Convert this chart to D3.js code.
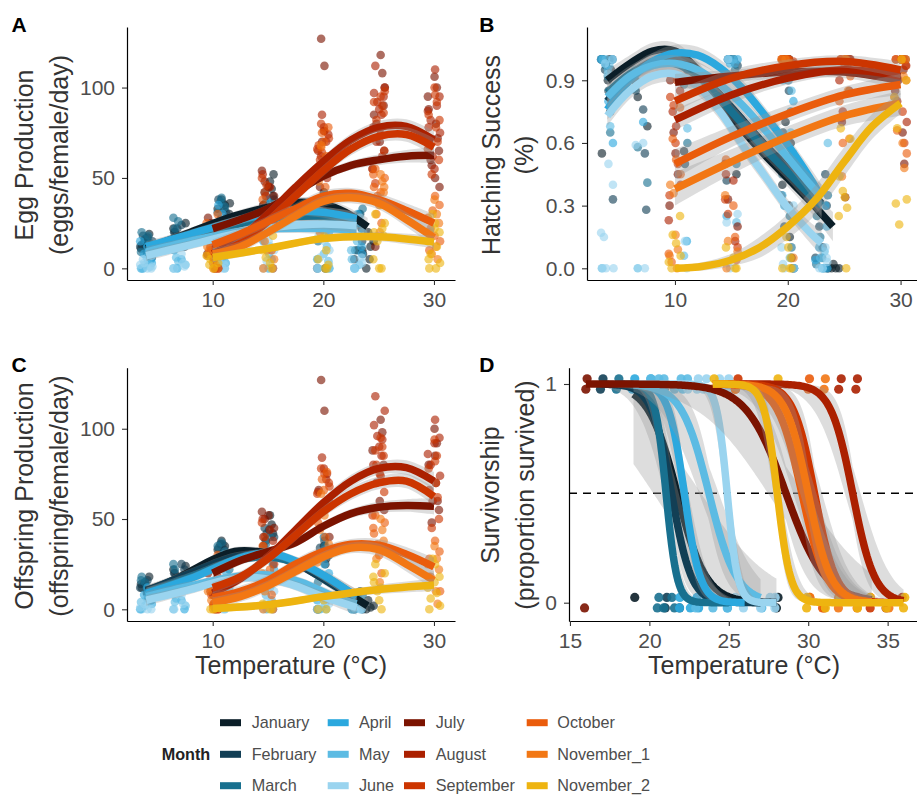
<!DOCTYPE html>
<html>
<head>
<meta charset="utf-8">
<script src="https://cdn.jsdelivr.net/npm/d3@7"></script>
<style>
  body { margin: 0; background: #fff; }
  svg text { font-family: "Liberation Sans", Arial, Helvetica, sans-serif; }
</style>
</head>
<body>
<svg id="fig" width="917" height="797"></svg>
<script>
// ---- categories -------------------------------------------------------
const months = ["January", "February", "March", "April", "May", "June",
  "July", "August", "September", "October", "November_1", "November_2"];
const monthColours = ["#0b1e28", "#123f55", "#18708f", "#2ba8de", "#5cbbe3", "#9ad4ef",
  "#7b1300", "#ab2000", "#cc3500", "#ea5c0c", "#f27714", "#eeb410"];

// ---- tick labels ------------------------------------------------------
const tempTicks = [10, 20, 30];
const prodTicks = [0, 50, 100];
const hatchTicks = [0, 0.3, 0.6, 0.9];
const survTempTicks = [15, 20, 25, 30, 35];
const survTicks = [0, 1];

// ---- observations: each row is [temperature, value, value, ...] -------
const eggObs = [
  [[4, 13, 16, 9, 19, 11, 14, 7], [7, 22, 18, 25, 20, 16], [11, 38, 35, 30, 33, 27, 36], [15, 48, 44, 40, 36, 30, 52], [20, 42, 36, 30, 0, 33], [24, 15, 8, 0, 20, 12, 10, 5]],
  [[4, 10, 14, 17, 6, 12, 18, 15], [7, 20, 24, 15, 12, 22], [11, 36, 33, 28, 38, 31], [15, 42, 38, 35, 26, 45], [20, 35, 28, 0, 22, 38], [23, 30, 22, 5, 10, 15]],
  [[4, 20, 16, 13, 11, 9, 18, 14], [7, 28, 12, 18, 22, 26], [11, 39, 34, 22, 31, 37], [15, 30, 28, 25, 20, 38], [20, 32, 25, 15, 40, 28], [23, 33, 18, 10, 25, 30]],
  [[4, 5, 8, 12, 3, 15, 0, 10], [7, 10, 5, 14, 18, 0], [11, 30, 26, 20, 35, 3], [15, 32, 22, 15, 38, 0], [20, 25, 20, 5, 35, 0], [23, 25, 12, 0, 30, 8]],
  [[4, 0, 2, 6, 10, 0, 4, 1], [7, 0, 6, 2, 11, 4], [11, 5, 0, 12, 3, 1], [15, 12, 5, 0, 25, 8], [20, 8, 0, 0, 20, 12, 4], [23, 20, 5, 0, 15, 2, 10]],
  [[4, 0, 3, 0, 7, 2, 5, 1], [7, 0, 8, 3, 1], [11, 0, 2, 8, 4], [15, 20, 10, 0, 4, 15], [20, 15, 3, 0, 6, 10, 18], [23, 28, 6, 0, 18, 3]],
  [[10, 28, 25, 20, 15, 8, 0, 12], [15, 54, 48, 40, 35, 30, 45], [20, 127, 112, 60, 52, 45, 40, 35, 70, 76], [25, 118, 108, 90, 80, 70, 65, 55, 12, 100, 85], [30, 106, 100, 88, 80, 72, 65, 57, 50, 45, 95, 60]],
  [[10, 22, 12, 5, 0, 16], [15, 52, 45, 30, 25, 40], [20, 85, 78, 70, 65, 58, 50, 74, 62], [25, 112, 100, 97, 92, 88, 85, 78, 74, 62, 95, 70], [30, 110, 95, 87, 82, 75, 68, 62, 55, 90, 78]],
  [[10, 18, 10, 3, 0, 7], [15, 50, 42, 25, 20, 46], [20, 80, 76, 72, 66, 60, 55, 68, 64], [25, 95, 90, 86, 82, 77, 65, 55, 47, 98, 92], [30, 100, 92, 85, 78, 70, 60, 52, 96, 82, 66]],
  [[10, 30, 15, 5, 0, 25, 10], [15, 38, 28, 10, 0, 20], [20, 75, 70, 62, 52, 45, 38, 78, 67], [25, 55, 50, 45, 40, 35, 25, 52, 42], [30, 40, 35, 28, 22, 15, 10, 32, 18]],
  [[10, 20, 8, 0, 2, 12], [15, 25, 15, 5, 0, 10], [20, 68, 55, 40, 30, 20, 62, 48], [25, 52, 48, 42, 30, 20, 45, 38], [30, 38, 30, 20, 12, 5, 25, 8]],
  [[10, 10, 5, 0, 3, 7, 2], [15, 10, 3, 0, 18, 6], [20, 25, 18, 10, 5, 0, 0, 2], [25, 30, 25, 20, 15, 0, 0, 5, 35, 22, 18], [30, 25, 20, 15, 8, 3, 0, 30, 22, 12, 5, 0]]
];

const hatchObs = [
  [[4, 1, 0.98, 0.9, 0.75, 0.55, 1, 0.95], [7, 0.9, 0.82, 0.68], [11, 0.56, 0.95], [15, 1, 0.98, 0.45, 1], [20, 0.9, 0.6, 0.4, 0.15, 0.05, 0, 0.7, 0.3], [24, 0, 0, 0, 0.02, 0]],
  [[4, 1, 0.95, 0.85, 0.33, 1], [7, 0.85, 0.76, 0.55, 0.28], [11, 0.5, 0.9], [15, 1, 0.97, 0.42, 1], [20, 0.85, 0.5, 0.35, 0.2, 0, 0.65], [23, 0.45, 0.3, 0.2, 0.1, 0, 0.05]],
  [[4, 1, 0.97, 0.92, 0.65, 1], [7, 0.86, 0.58, 0.41], [11, 0.88, 0.6], [15, 1, 0.95, 0.5, 1], [20, 0.95, 0.75, 0.45, 0.25, 0.1, 0.55], [23, 0.35, 0.25, 0.15, 0.05, 0, 0.02]],
  [[4, 1, 0.98, 0.8, 0.6, 1], [7, 0.9, 0.7], [11, 0.9, 0.13], [15, 1, 1, 0.25, 0.98], [20, 1, 0.8, 0.55, 0.3, 0, 0.9], [23, 0.3, 0.2, 0.1, 0, 0, 0.04]],
  [[4, 1, 1, 0.95, 0.68, 0, 0.97], [7, 0.95, 0], [11, 0.06, 0.67], [15, 1, 0.98, 0.22, 1], [20, 1, 0.65, 0.35, 0.05, 0.85], [23, 0.6, 0.15, 0.05, 0, 0.08]],
  [[4, 1, 0.98, 0.5, 0.4, 0.17, 0.15, 0, 0, 0, 0.93], [7, 0.59, 0.6, 0], [11, 0.13, 0], [15, 1, 0.26, 0.22, 0], [20, 0.9, 0.3, 0.1, 0, 0, 0.02], [23, 0.1, 0.05, 0, 0, 0.03]],
  [[10, 0.9, 0.65, 0.55, 0.45, 0.3], [15, 0.5, 0.33, 0.2], [20, 1, 1, 0.98, 0.95, 1], [25, 1, 0.98, 0.85, 0.7, 0.34, 1], [30, 1, 0.95, 0.85, 0.65, 0.5, 1, 0.9]],
  [[10, 0.85, 0.75, 0.68, 0.4, 0.23], [15, 0.45, 0.42, 0.13], [20, 1, 1, 0.97, 1], [25, 1, 1, 0.9, 0.75, 0.97], [30, 1, 0.97, 0.9, 0.8, 0.7, 1]],
  [[10, 0.82, 0.78, 0.6, 0.5, 0.35, 0.9], [15, 0.33, 0.26, 0.1], [20, 1, 1, 0.99, 1], [25, 1, 1, 0.95, 0.72, 1], [30, 1, 1, 0.88, 0.75, 0.6, 0.97]],
  [[10, 0.77, 0.62, 0.52, 0.45, 0.07, 0.03], [15, 0.52, 0.3, 0.15, 0.04], [20, 1, 1, 0.98, 1], [25, 1, 0.92, 0.8, 0.6, 1], [30, 1, 0.9, 0.82, 0.66, 0.55, 1]],
  [[10, 0.4, 0.36, 0.16, 0.09, 0.06, 0], [15, 0.35, 0.13, 0.08, 0], [20, 1, 0.98, 0.05, 1], [25, 1, 0.85, 0.62, 0.44, 1], [30, 1, 0.92, 0.78, 0.6, 0.48, 1]],
  [[10, 0.25, 0.16, 0.12, 0.06, 0.03, 0], [15, 0.1, 0.05, 0, 0], [20, 0.15, 0.1, 0.05, 0, 0, 0], [25, 0.67, 0.62, 0.44, 0.37, 0.34, 0.29, 0.25, 0], [30, 1, 0.9, 0.82, 0.67, 0.33, 0.31, 0.21]]
];

const offspringObs = [
  [[4, 12, 15, 9, 18, 14, 6], [7, 22, 18, 24, 20, 16], [11, 38, 35, 30, 33, 36], [15, 52, 47, 42, 38, 44], [20, 35, 28, 0, 25], [24, 2, 0, 0, 5, 1]],
  [[4, 10, 14, 16, 6, 12], [7, 20, 25, 15, 22], [11, 36, 33, 28, 34], [15, 45, 40, 35, 42], [20, 38, 30, 0, 34], [23, 10, 3, 0, 6]],
  [[4, 18, 15, 12, 9, 16], [7, 25, 12, 18, 22], [11, 37, 32, 22, 35], [15, 40, 30, 25, 36], [20, 40, 30, 15, 35], [23, 8, 0, 2, 5]],
  [[4, 5, 8, 12, 3, 0], [7, 10, 5, 14, 0], [11, 30, 26, 20, 2], [15, 32, 22, 15, 0], [20, 25, 20, 5, 0], [23, 5, 0, 0, 2]],
  [[4, 0, 2, 6, 10, 4], [7, 0, 6, 2, 4], [11, 5, 0, 12, 1], [15, 12, 5, 0, 8], [20, 8, 0, 0, 3], [23, 2, 0, 0]],
  [[4, 0, 3, 0, 7, 1], [7, 0, 8, 3], [11, 0, 2, 8], [15, 20, 10, 0, 4], [20, 5, 3, 0, 1], [23, 0, 0, 1]],
  [[10, 20, 15, 8, 0, 24], [15, 54, 50, 45, 40, 30, 52], [20, 127, 110, 60, 52, 45, 40, 66], [25, 105, 98, 80, 70, 60, 55, 88], [30, 100, 92, 80, 70, 60, 55, 48, 85]],
  [[10, 18, 10, 3, 0], [15, 50, 44, 30, 38], [20, 84, 78, 72, 65, 58, 75], [25, 118, 110, 102, 96, 90, 85, 80, 74, 94], [30, 105, 95, 86, 80, 74, 66, 60, 92]],
  [[10, 15, 8, 2, 0], [15, 48, 40, 25, 35], [20, 78, 75, 70, 64, 56, 68], [25, 95, 90, 85, 80, 75, 65, 52, 88], [30, 94, 85, 78, 70, 62, 50, 45, 82]],
  [[10, 30, 12, 3, 0], [15, 35, 22, 8, 0], [20, 72, 66, 58, 48, 40, 76], [25, 52, 48, 42, 36, 30, 20, 45], [30, 38, 32, 25, 18, 10, 28]],
  [[10, 10, 5, 0], [15, 20, 10, 3, 0], [20, 64, 52, 36, 26, 44], [25, 50, 44, 38, 28, 15, 34], [30, 35, 28, 18, 10, 3, 22]],
  [[10, 2, 0, 0, 1], [15, 3, 0, 0], [20, 8, 5, 0, 0], [25, 25, 20, 15, 10, 5, 0, 18, 12], [30, 25, 18, 12, 6, 2, 0, 28, 15, 9]]
];

// ---- smoother fits: each row is [temperature, fitted value, CI half-width]
const eggFit = [
  [[4, 11, 3], [8, 20, 2.5], [12, 29, 2.5], [16, 35, 3], [18, 36.5, 3], [20, 35.5, 3], [22, 31, 3.5], [24, 23, 5]],
  [[4, 10, 3], [8, 18, 2.5], [12, 26, 2.5], [16, 31, 2.5], [20, 31, 3], [23, 27, 4]],
  [[4, 10, 3], [8, 17, 2.5], [12, 24, 2.5], [16, 28, 2.5], [20, 28.5, 3], [23, 26, 4]],
  [[4, 12, 3], [8, 19, 2.5], [12, 26, 2.5], [16, 31.5, 2.5], [20, 31, 3], [23, 27.5, 4]],
  [[4, 9, 3], [8, 15, 2.5], [12, 20, 2.5], [16, 22, 2.5], [20, 22, 3], [23, 21, 4]],
  [[4, 7, 3], [8, 13, 2.5], [12, 19, 2.5], [16, 23, 2.5], [20, 24.5, 3], [23, 23.5, 4]],
  [[10, 22, 3], [12.5, 27, 2.5], [15, 33, 2.5], [17.5, 42, 2.5], [20, 51, 2.5], [22.5, 57, 2.5], [25, 60, 3], [27.5, 62, 3.5], [30, 62.5, 4.5]],
  [[10, 8, 3], [12.5, 17, 3], [15, 30, 3], [17.5, 45, 3], [20, 59, 3], [22.5, 71, 3.5], [25, 78, 3.5], [27.5, 78.5, 4], [30, 71, 5]],
  [[10, 6, 3], [12.5, 14, 3], [15, 26, 3], [17.5, 40, 3], [20, 54, 3], [22.5, 66, 3.5], [25, 73, 3.5], [27.5, 74, 4], [30, 67, 5]],
  [[10, 13, 3], [12.5, 19, 3], [15, 26, 3], [17.5, 33, 3], [20, 40, 3], [22.5, 41.5, 3], [25, 38, 3.5], [27.5, 32, 4], [30, 25, 5]],
  [[10, 8, 3], [12.5, 12, 3], [15, 20, 3], [17.5, 29, 3], [20, 37, 3], [22.5, 39, 3], [25, 36, 3.5], [27.5, 27, 4], [30, 17, 5]],
  [[10, 6, 2.5], [15, 11, 2], [20, 16.5, 2], [25, 17.5, 2.5], [30, 14.5, 3.5]]
];

const hatchFit = [
  [[4, 0.90, 0.05], [6, 0.98, 0.04], [8, 1.04, 0.04], [10, 1.04, 0.04], [12, 0.95, 0.04], [14, 0.79, 0.04], [16, 0.66, 0.04], [18, 0.54, 0.04], [20, 0.43, 0.04], [22, 0.32, 0.05], [24, 0.20, 0.07]],
  [[4, 0.80, 0.05], [6, 0.92, 0.04], [8, 0.99, 0.04], [10, 1.00, 0.04], [12, 0.94, 0.04], [14, 0.83, 0.04], [16, 0.71, 0.04], [18, 0.59, 0.04], [20, 0.48, 0.04], [22, 0.37, 0.05], [23, 0.31, 0.06]],
  [[4, 0.84, 0.05], [6, 0.93, 0.04], [8, 0.98, 0.04], [10, 0.98, 0.04], [12, 0.92, 0.04], [14, 0.81, 0.04], [16, 0.69, 0.04], [18, 0.57, 0.04], [20, 0.46, 0.04], [22, 0.35, 0.05], [23, 0.30, 0.06]],
  [[4, 0.76, 0.05], [6, 0.90, 0.04], [8, 0.99, 0.04], [10, 1.03, 0.04], [12, 1.02, 0.04], [14, 0.96, 0.04], [16, 0.86, 0.04], [18, 0.73, 0.04], [20, 0.59, 0.04], [22, 0.43, 0.05], [23, 0.34, 0.06]],
  [[4, 0.82, 0.05], [6, 0.92, 0.04], [8, 0.97, 0.04], [10, 0.98, 0.04], [12, 0.95, 0.04], [14, 0.88, 0.04], [16, 0.78, 0.04], [18, 0.66, 0.04], [20, 0.53, 0.04], [22, 0.40, 0.05], [23, 0.34, 0.06]],
  [[4, 0.73, 0.05], [6, 0.85, 0.04], [8, 0.92, 0.04], [10, 0.93, 0.04], [12, 0.87, 0.04], [14, 0.75, 0.04], [16, 0.59, 0.04], [18, 0.44, 0.04], [20, 0.29, 0.04], [22, 0.17, 0.05], [23, 0.12, 0.06]],
  [[10, 0.89, 0.04], [15, 0.92, 0.03], [20, 0.94, 0.03], [25, 0.94, 0.03], [30, 0.90, 0.04]],
  [[10, 0.71, 0.05], [15, 0.83, 0.04], [20, 0.91, 0.03], [25, 0.95, 0.03], [30, 0.92, 0.04]],
  [[10, 0.80, 0.05], [15, 0.91, 0.04], [20, 0.97, 0.03], [25, 0.99, 0.03], [30, 0.95, 0.04]],
  [[10, 0.50, 0.07], [15, 0.63, 0.05], [20, 0.74, 0.04], [25, 0.83, 0.04], [30, 0.88, 0.05]],
  [[10, 0.38, 0.08], [15, 0.51, 0.06], [20, 0.63, 0.05], [25, 0.73, 0.05], [30, 0.79, 0.06]],
  [[10, 0.00, 0.01], [12.5, 0.01, 0.02], [15, 0.04, 0.03], [17.5, 0.10, 0.05], [20, 0.20, 0.06], [22.5, 0.33, 0.07], [25, 0.51, 0.07], [27.5, 0.68, 0.06], [30, 0.79, 0.05]]
];

const offspringFit = [
  [[4, 10.5, 3], [6, 15, 2.5], [8, 21, 2.5], [10, 27.5, 2.5], [12, 32, 2.5], [14, 32, 2.5], [16, 29.5, 2.5], [18, 24, 2.5], [20, 17, 3], [22, 9.5, 3], [24, 2, 4]],
  [[4, 10, 3], [8, 20, 2.5], [12, 29, 2.5], [15, 30, 2.5], [18, 24, 2.5], [21, 13, 3], [23, 6, 4]],
  [[4, 9, 3], [8, 18, 2.5], [12, 27, 2.5], [15, 29, 2.5], [18, 25, 2.5], [21, 15, 3], [23, 7, 4]],
  [[4, 8.8, 3], [8, 17, 2.5], [11, 25, 2.5], [13, 29.5, 2.5], [15, 31, 2.5], [17, 28, 2.5], [20, 19, 3], [23, 7, 4]],
  [[4, 7, 3], [8, 13, 2.5], [12, 18, 2.5], [15, 19, 2.5], [18, 15, 2.5], [21, 7, 3], [23, 3, 4]],
  [[4, 5, 3], [8, 11, 2.5], [11, 16, 2.5], [14, 17.5, 2.5], [17, 14, 2.5], [20, 7, 3], [23, 1, 4]],
  [[10, 20, 3], [12.5, 27, 2.5], [15, 32, 2.5], [17.5, 37, 2.5], [20, 46, 2.5], [22.5, 53, 2.5], [25, 56.5, 3], [27.5, 57.5, 3.5], [30, 57, 4.5]],
  [[10, 9, 3], [12.5, 17, 3], [15, 29, 3], [17.5, 44, 3], [20, 59, 3], [22.5, 71, 3.5], [25, 78, 3.5], [27.5, 78.5, 4], [30, 71, 5]],
  [[10, 12, 3], [12.5, 18, 3], [15, 28, 3], [17.5, 41, 3], [20, 54, 3], [22.5, 64, 3.5], [25, 70, 3.5], [27.5, 71, 4], [30, 62.5, 5]],
  [[10, 6.5, 3], [12.5, 10, 3], [15, 16, 3], [17.5, 25, 3], [20, 32, 3], [22.5, 36, 3], [25, 35.5, 3.5], [27.5, 30.5, 4], [30, 23.5, 5]],
  [[10, 3.7, 3], [12.5, 7, 3], [15, 13, 3], [17.5, 21, 3], [20, 29, 3], [22.5, 34, 3], [25, 33, 3.5], [27.5, 25, 4], [30, 16, 5]],
  [[10, 0.5, 2], [15, 2.5, 2], [20, 7, 2], [25, 11, 2.5], [30, 13.5, 3.5]]
];

// ---- survivorship: individual outcomes [temperature, survived (1) / died (0)]
const survObs = [
  [[21, 1], [19, 0], [28, 0], [28, 0]],
  [[17, 1], [17, 1], [21, 0], [21, 0], [22, 0]],
  [[18, 1], [18, 1], [20.5, 0], [20.5, 0], [21, 0], [21.5, 0], [21.5, 0]],
  [[19, 1], [19, 1], [20, 1], [20, 1], [22, 0], [22, 0], [22.5, 0], [23, 0], [23, 0], [24, 0], [25, 0], [26, 0]],
  [[20, 1], [20, 1], [20.5, 1], [20.5, 1], [21, 1], [21, 1], [21.5, 1], [22, 1], [22, 1], [22.5, 1], [23, 0], [23.5, 0], [24, 0], [24.5, 0], [25, 0], [26, 0], [27, 0]],
  [[22.5, 1], [23, 1], [23, 1], [23.5, 1], [23.5, 1], [24.5, 1], [24.5, 1], [25, 1], [25, 1], [25.5, 0], [26, 0], [26.5, 0], [27, 0], [27.5, 0], [28, 0], [28, 0]],
  [[16, 0], [16, 1], [16, 1]],
  [[32, 1], [32, 1], [33, 1], [33, 1], [35, 0], [36, 0]],
  [[25.5, 1], [25.5, 1], [31, 0], [33, 0], [34, 0]],
  [[24, 1], [30, 1], [30, 1], [30, 0], [31, 0], [32, 0], [33, 0]],
  [[25.5, 1], [31, 1], [31, 1], [30, 0], [32, 0], [34, 0], [35, 0]],
  [[24, 1], [24, 1], [28, 1], [28, 1], [30, 0], [30, 0], [31, 0], [32, 0], [33, 0], [34, 0], [35, 0], [36, 0], [36, 0]]
];
// logistic fits: temperature of 50% survival, slope, fitted range, CI width on the link scale
const survLT50 = [21.75, 21.4, 21.05, 22.2, 23.75, 24.9, 28.6, 32.8, 30.4, 29.6, 30.0, 28.05];
const survSlope = [1.1, 1.6, 2.9, 2.0, 1.15, 3.0, 0.8, 1.45, 1.5, 1.3, 1.4, 2.4];
const survRange = [[19, 28], [17, 27], [18, 25], [19, 26], [19, 27], [19, 28], [16, 34], [24, 36], [24, 35], [24, 34], [24, 34], [24, 36]];
const survBand = [[0.66, 0.6], [0.5, 0.3], [0.4, 0.2], [0.4, 0.25], [0.5, 0.3], [0.4, 0.2], [0.5, 0.45], [0.5, 0.3], [0.5, 0.3], [0.5, 0.3], [0.5, 0.3], [0.4, 0.25]];

// ---- drawing ----------------------------------------------------------
const svg = d3.select("#fig");
const TICK_COL = "#4d4d4d", TITLE_COL = "#333333";
const jitterX = [-0.42, 0.18, 0.5, -0.12, 0.33, -0.55, 0.05, 0.45, -0.3, 0.26, -0.2, 0.55, -0.48, 0.1];
const logistic = e => 1 / (1 + Math.exp(-e));

function makePanel(key, x, y) {
  const [x0, x1] = x.range(), [yb, yt] = y.range();
  svg.append("clipPath").attr("id", "clip-" + key)
    .append("rect").attr("x", x0).attr("y", yt).attr("width", x1 - x0).attr("height", yb - yt);
  const g = svg.append("g");
  const plot = g.append("g").attr("clip-path", `url(#clip-${key})`);
  return { g, plot };
}

function drawAxes(g, x, y, xTicks, yTicks, yFmt) {
  const [yb] = y.range(), [x0] = x.range();
  const ax = g.append("g").attr("transform", `translate(0,${yb})`)
    .call(d3.axisBottom(x).tickValues(xTicks).tickSize(5).tickPadding(7).tickSizeOuter(0).tickFormat(d3.format("d")));
  const ay = g.append("g").attr("transform", `translate(${x0},0)`)
    .call(d3.axisLeft(y).tickValues(yTicks).tickSize(5).tickPadding(7).tickSizeOuter(0).tickFormat(yFmt));
  [ax, ay].forEach(a => {
    a.select(".domain").attr("stroke", "#000").attr("stroke-width", 1.2);
    a.selectAll(".tick line").attr("stroke", "#333").attr("stroke-width", 1.1);
    a.selectAll(".tick text").attr("fill", TICK_COL).attr("font-size", 21)
      .attr("font-family", '"Liberation Sans", Arial, sans-serif');
  });
}

function drawPoints(plot, x, y, obs) {
  const pts = [];
  obs.forEach((rows, mi) => rows.forEach((row, ri) => row.slice(1).forEach((v, j) => {
    pts.push({ t: row[0] + jitterX[(j * 3 + ri * 5 + mi * 7) % jitterX.length], v, mi });
  })));
  plot.append("g").selectAll("circle").data(pts).join("circle")
    .attr("cx", d => x(d.t)).attr("cy", d => y(d.v)).attr("r", 4.3)
    .attr("fill", d => monthColours[d.mi]).attr("fill-opacity", 0.62);
}

function drawFits(plot, x, y, fits) {
  const curve = d3.curveCatmullRom.alpha(0.5);
  const area = d3.area().x(d => x(d[0])).y0(d => y(d[1] - d[2])).y1(d => y(d[1] + d[2])).curve(curve);
  const line = d3.line().x(d => x(d[0])).y(d => y(d[1])).curve(curve);
  fits.forEach((rows, mi) => {
    plot.append("path").attr("d", area(rows)).attr("fill", "#999").attr("fill-opacity", 0.33);
    plot.append("path").attr("d", line(rows)).attr("fill", "none")
      .attr("stroke", monthColours[mi]).attr("stroke-width", 7.5);
  });
}

function yTitle(lines, xs, cy) {
  lines.forEach((s, i) => {
    svg.append("text").attr("transform", `translate(${xs[i]},${cy}) rotate(-90)`)
      .attr("text-anchor", "middle").attr("font-size", 25).attr("fill", TITLE_COL).text(s);
  });
}
function xTitle(cx, yb) {
  svg.append("text").attr("x", cx).attr("y", yb).attr("text-anchor", "middle")
    .attr("font-size", 25).attr("fill", TITLE_COL).text("Temperature (°C)");
}
function tag(s, x, y) {
  svg.append("text").attr("x", x).attr("y", y).attr("font-size", 21)
    .attr("font-weight", "bold").attr("fill", "#000").text(s);
}

// Panel A — egg production
{
  const x = d3.scaleLinear().domain([2.255, 31.9]).range([127, 455]);
  const y = d3.scaleLinear().domain([-6.45, 133.5]).range([280, 27]);
  const { g, plot } = makePanel("A", x, y);
  drawPoints(plot, x, y, eggObs);
  drawFits(plot, x, y, eggFit);
  drawAxes(g, x, y, tempTicks, prodTicks, d3.format("d"));
  yTitle(["Egg Production", "(eggs/female/day)"], [33, 68.3], 155);
  tag("A", 11.5, 31.7);
}

// Panel B — hatching success
{
  const x = d3.scaleLinear().domain([2.2, 31.9]).range([587, 922]);
  const y = d3.scaleLinear().domain([-0.056, 1.155]).range([280, 27]);
  const { g, plot } = makePanel("B", x, y);
  drawPoints(plot, x, y, hatchObs);
  drawFits(plot, x, y, hatchFit);
  drawAxes(g, x, y, tempTicks, hatchTicks, d3.format(".1f"));
  yTitle(["Hatching Success", "(%)"], [499.6, 533.3], 155);
  tag("B", 479.3, 31.7);
}

// Panel C — offspring production
{
  const x = d3.scaleLinear().domain([2.255, 31.9]).range([127, 455]);
  const y = d3.scaleLinear().domain([-6.48, 133.8]).range([621, 367.7]);
  const { g, plot } = makePanel("C", x, y);
  drawPoints(plot, x, y, offspringObs);
  drawFits(plot, x, y, offspringFit);
  drawAxes(g, x, y, tempTicks, prodTicks, d3.format("d"));
  yTitle(["Offspring Production", "(offspring/female/day)"], [33, 68.3], 496);
  xTitle(291, 674);
  tag("C", 11.5, 371.7);
}

// Panel D — survivorship
{
  const x = d3.scaleLinear().domain([14.94, 37]).range([569, 919.4]);
  const y = d3.scaleLinear().domain([-0.0837, 1.0745]).range([621, 367.7]);
  const { g, plot } = makePanel("D", x, y);
  const yJit = [-0.024, 0.024], xJit = [-0.08, 0.08, 0, 0.1, -0.1];
  const pts = [];
  survObs.forEach((rows, mi) => rows.forEach((r, i) => pts.push({ t: r[0] + xJit[i % xJit.length], v: r[1] + yJit[i % 2], mi })));
  plot.append("g").selectAll("circle").data(pts).join("circle")
    .attr("cx", d => x(d.t)).attr("cy", d => y(d.v)).attr("r", 4.6)
    .attr("fill", d => monthColours[d.mi]).attr("fill-opacity", 0.9);
  plot.append("line").attr("x1", x.range()[0]).attr("x2", x.range()[1])
    .attr("y1", y(0.5)).attr("y2", y(0.5))
    .attr("stroke", "#000").attr("stroke-width", 1.5).attr("stroke-dasharray", "8,6");
  survLT50.forEach((lt, mi) => {
    const k = survSlope[mi], [a, b] = survRange[mi], [c0, c1] = survBand[mi];
    const curvePts = d3.range(a, b + 1e-6, 0.1).map(t => {
      const eta = k * (lt - t), h = c0 + c1 * Math.abs(eta);
      return [t, logistic(eta), logistic(eta - h), logistic(eta + h)];
    });
    plot.append("path").attr("d", d3.area().x(d => x(d[0])).y0(d => y(d[2])).y1(d => y(d[3]))(curvePts))
      .attr("fill", "#999").attr("fill-opacity", 0.33);
    plot.append("path").attr("d", d3.line().x(d => x(d[0])).y(d => y(d[1]))(curvePts))
      .attr("fill", "none").attr("stroke", monthColours[mi]).attr("stroke-width", 7.5);
  });
  drawAxes(g, x, y, survTempTicks, survTicks, d3.format("d"));
  yTitle(["Survivorship", "(proportion survived)"], [498.6, 534], 495);
  xTitle(744, 674);
  tag("D", 479.3, 371.7);
}

// Legend
{
  const keyX = [220, 327.7, 404, 526.7], labX = [251.7, 359, 435.7, 557.3], rowY = [722.7, 754.3, 785.7];
  svg.append("text").attr("x", 161.7).attr("y", 754.3).attr("dy", "0.35em")
    .attr("font-size", 16.2).attr("font-weight", "bold").attr("fill", "#222").text("Month");
  months.forEach((m, i) => {
    const c = Math.floor(i / 3), r = i % 3;
    svg.append("rect").attr("x", keyX[c]).attr("y", rowY[r] - 3.5).attr("width", 21).attr("height", 7)
      .attr("fill", monthColours[i]);
    svg.append("text").attr("x", labX[c]).attr("y", rowY[r]).attr("dy", "0.35em")
      .attr("font-size", 16.2).attr("fill", TICK_COL).text(m);
  });
}
</script>
</body>
</html>
